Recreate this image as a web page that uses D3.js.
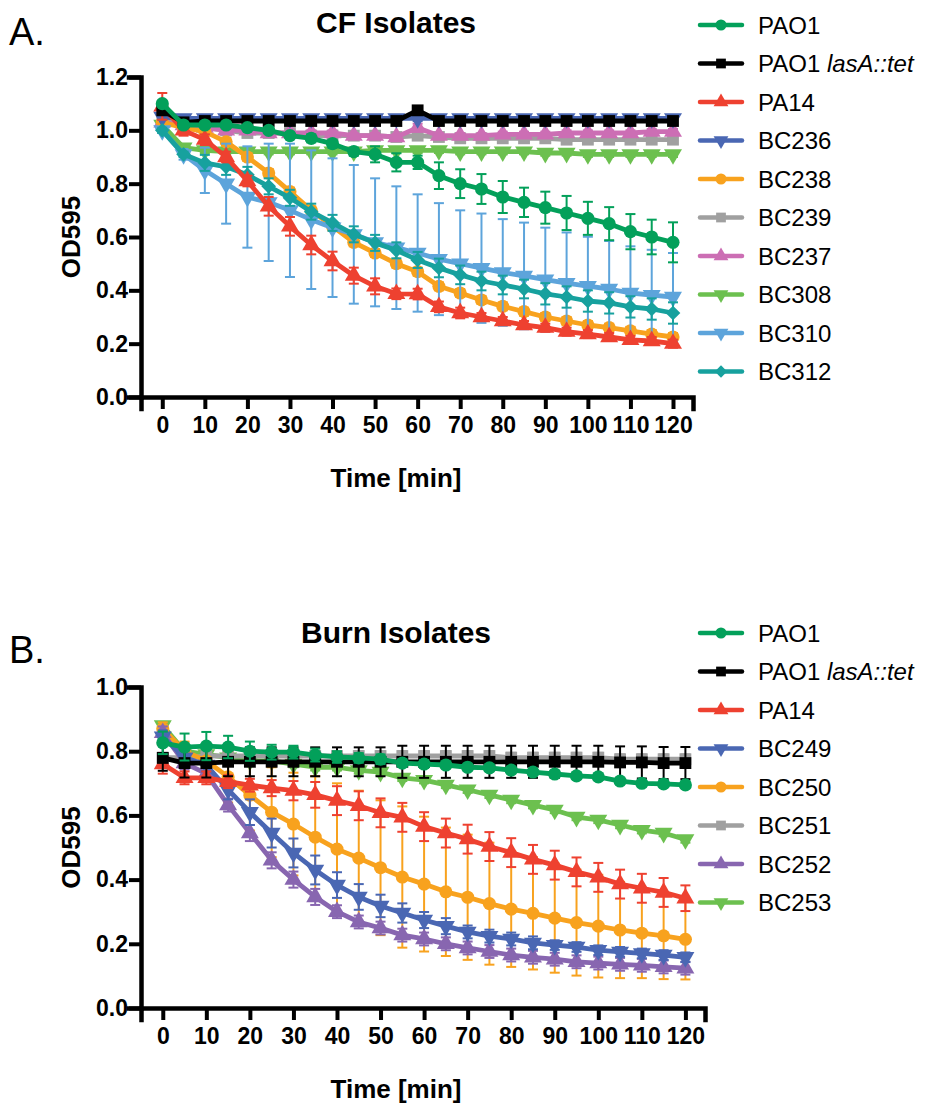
<!DOCTYPE html>
<html>
<head>
<meta charset="utf-8">
<script src="https://cdn.jsdelivr.net/npm/d3@7"></script>
<style>
body { margin: 0; background: #fff; }
svg { font-family: "Liberation Sans", Arial, Helvetica, sans-serif; }
</style>
</head>
<body>
<div id="chart-area"></div>
<script>

// ---- data ----
var times = [0, 5, 10, 15, 20, 25, 30, 35, 40, 45, 50, 55, 60, 65, 70, 75, 80, 85, 90, 95, 100, 105, 110, 115, 120];
var xTicks = [0, 10, 20, 30, 40, 50, 60, 70, 80, 90, 100, 110, 120];

// A. CF isolates
var cfNames = ["PAO1", "PAO1 lasA::tet", "PA14", "BC236", "BC238", "BC239", "BC237", "BC308", "BC310", "BC312"];
var cfYTicks = [0, 0.2, 0.4, 0.6, 0.8, 1.0, 1.2];

var cfPAO1    = [1.10, 1.02, 1.02, 1.02, 1.01, 1.00, 0.98, 0.97, 0.95, 0.92, 0.91, 0.88, 0.88, 0.83, 0.80, 0.78, 0.75, 0.73, 0.71, 0.69, 0.67, 0.65, 0.62, 0.60, 0.58];
var cfPAO1Err = [0.01, 0.01, 0.01, 0.01, 0.01, 0.01, 0.01, 0.015, 0.015, 0.015, 0.03, 0.034, 0.025, 0.05, 0.054, 0.056, 0.06, 0.055, 0.06, 0.064, 0.062, 0.062, 0.066, 0.065, 0.075];
var cfLasA    = [1.075, 1.03, 1.035, 1.035, 1.035, 1.035, 1.035, 1.035, 1.035, 1.035, 1.035, 1.035, 1.075, 1.035, 1.035, 1.035, 1.035, 1.035, 1.035, 1.035, 1.035, 1.035, 1.035, 1.035, 1.035];
var cfLasAErr = [0.01, 0.01, 0.01, 0.01, 0.01, 0.01, 0.01, 0.01, 0.01, 0.01, 0.01, 0.01, 0.01, 0.01, 0.01, 0.01, 0.01, 0.01, 0.01, 0.01, 0.01, 0.01, 0.01, 0.01, 0.01];
var cfPA14    = [1.09, 1.00, 0.965, 0.90, 0.81, 0.715, 0.64, 0.57, 0.51, 0.455, 0.415, 0.387, 0.386, 0.338, 0.315, 0.30, 0.285, 0.27, 0.26, 0.245, 0.236, 0.225, 0.214, 0.21, 0.20];
var cfPA14Err = [0.05, 0.02, 0.02, 0.02, 0.02, 0.035, 0.035, 0.035, 0.035, 0.03, 0.03, 0.02, 0.02, 0.02, 0.02, 0.015, 0.015, 0.015, 0.015, 0.015, 0.015, 0.015, 0.015, 0.015, 0.015];
var cfBC236    = [1.05, 1.045, 1.045, 1.045, 1.045, 1.045, 1.045, 1.045, 1.045, 1.045, 1.045, 1.045, 1.045, 1.045, 1.045, 1.045, 1.045, 1.045, 1.045, 1.045, 1.045, 1.045, 1.045, 1.045, 1.045];
var cfBC236Err = [0.01, 0.01, 0.01, 0.01, 0.01, 0.01, 0.01, 0.01, 0.01, 0.01, 0.01, 0.01, 0.01, 0.01, 0.01, 0.01, 0.01, 0.01, 0.01, 0.01, 0.01, 0.01, 0.01, 0.01, 0.01];
var cfBC238    = [1.03, 1.01, 0.995, 0.957, 0.90, 0.84, 0.77, 0.70, 0.64, 0.58, 0.54, 0.50, 0.47, 0.415, 0.39, 0.364, 0.34, 0.32, 0.30, 0.285, 0.27, 0.26, 0.248, 0.236, 0.225];
var cfBC238Err = [0.015, 0.015, 0.015, 0.015, 0.015, 0.015, 0.015, 0.015, 0.015, 0.015, 0.015, 0.015, 0.015, 0.015, 0.015, 0.015, 0.015, 0.015, 0.015, 0.015, 0.015, 0.015, 0.015, 0.015, 0.015];
var cfBC239    = [1.04, 1.02, 1.01, 1.00, 0.99, 0.99, 0.99, 0.98, 0.98, 0.98, 0.98, 0.975, 0.98, 0.975, 0.97, 0.97, 0.97, 0.97, 0.97, 0.965, 0.965, 0.965, 0.965, 0.965, 0.965];
var cfBC239Err = [0.01, 0.01, 0.01, 0.01, 0.01, 0.01, 0.01, 0.01, 0.01, 0.01, 0.01, 0.01, 0.01, 0.01, 0.01, 0.01, 0.01, 0.01, 0.01, 0.01, 0.01, 0.01, 0.01, 0.01, 0.01];
var cfBC237    = [1.03, 1.02, 1.01, 1.00, 1.00, 0.99, 0.99, 0.99, 0.99, 0.98, 0.98, 0.975, 1.01, 0.98, 0.98, 0.98, 0.985, 0.985, 0.985, 0.99, 0.99, 0.99, 0.99, 0.995, 0.995];
var cfBC237Err = [0.01, 0.01, 0.01, 0.01, 0.01, 0.01, 0.01, 0.01, 0.01, 0.01, 0.01, 0.01, 0.015, 0.01, 0.01, 0.01, 0.01, 0.01, 0.01, 0.01, 0.01, 0.01, 0.01, 0.01, 0.01];
var cfBC308    = [1.02, 0.935, 0.925, 0.92, 0.92, 0.92, 0.92, 0.92, 0.92, 0.92, 0.925, 0.925, 0.925, 0.925, 0.92, 0.92, 0.92, 0.92, 0.915, 0.915, 0.91, 0.91, 0.91, 0.91, 0.91];
var cfBC308Err = [0.01, 0.01, 0.01, 0.01, 0.01, 0.01, 0.01, 0.01, 0.01, 0.01, 0.01, 0.01, 0.01, 0.01, 0.01, 0.01, 0.01, 0.01, 0.01, 0.01, 0.01, 0.01, 0.01, 0.01, 0.01];
var cfBC310    = [1.00, 0.91, 0.85, 0.80, 0.75, 0.73, 0.70, 0.665, 0.635, 0.61, 0.58, 0.56, 0.54, 0.517, 0.50, 0.483, 0.467, 0.454, 0.44, 0.427, 0.416, 0.405, 0.39, 0.382, 0.375];
var cfBC310Err = [0.01, 0.02, 0.085, 0.15, 0.19, 0.22, 0.25, 0.26, 0.26, 0.26, 0.24, 0.23, 0.22, 0.21, 0.20, 0.205, 0.20, 0.20, 0.195, 0.19, 0.185, 0.18, 0.175, 0.17, 0.165];
var cfBC312    = [1.00, 0.91, 0.878, 0.863, 0.833, 0.79, 0.747, 0.695, 0.653, 0.61, 0.578, 0.55, 0.514, 0.484, 0.458, 0.435, 0.42, 0.405, 0.387, 0.375, 0.36, 0.353, 0.338, 0.33, 0.315];
var cfBC312Err = [0.01, 0.01, 0.03, 0.03, 0.03, 0.03, 0.03, 0.03, 0.03, 0.03, 0.03, 0.03, 0.03, 0.035, 0.035, 0.035, 0.035, 0.035, 0.04, 0.04, 0.04, 0.04, 0.04, 0.04, 0.04];

// B. Burn isolates
var burnNames = ["PAO1", "PAO1 lasA::tet", "PA14", "BC249", "BC250", "BC251", "BC252", "BC253"];
var burnYTicks = [0, 0.2, 0.4, 0.6, 0.8, 1.0];

var burnPAO1    = [0.826, 0.813, 0.816, 0.813, 0.80, 0.797, 0.797, 0.788, 0.782, 0.779, 0.775, 0.763, 0.76, 0.757, 0.75, 0.748, 0.741, 0.735, 0.729, 0.723, 0.72, 0.707, 0.70, 0.698, 0.695];
var burnPAO1Err = [0.035, 0.042, 0.044, 0.035, 0.03, 0.023, 0.02, 0.02, 0.018, 0.015, 0.015, 0.012, 0.012, 0.01, 0.01, 0.01, 0.01, 0.01, 0.01, 0.01, 0.01, 0.01, 0.01, 0.01, 0.01];
var burnLasA    = [0.779, 0.763, 0.763, 0.767, 0.767, 0.767, 0.767, 0.767, 0.767, 0.767, 0.767, 0.767, 0.767, 0.767, 0.767, 0.767, 0.767, 0.767, 0.767, 0.767, 0.767, 0.765, 0.765, 0.763, 0.763];
var burnLasAErr = [0.04, 0.045, 0.045, 0.045, 0.045, 0.045, 0.045, 0.045, 0.045, 0.045, 0.045, 0.05, 0.05, 0.05, 0.05, 0.05, 0.05, 0.05, 0.05, 0.05, 0.05, 0.05, 0.05, 0.05, 0.05];
var burnPA14    = [0.76, 0.717, 0.717, 0.705, 0.694, 0.685, 0.677, 0.664, 0.646, 0.63, 0.608, 0.594, 0.565, 0.545, 0.526, 0.503, 0.484, 0.463, 0.445, 0.424, 0.407, 0.386, 0.373, 0.36, 0.342];
var burnPA14Err = [0.03, 0.02, 0.02, 0.02, 0.02, 0.025, 0.03, 0.04, 0.045, 0.045, 0.045, 0.045, 0.045, 0.045, 0.045, 0.045, 0.045, 0.045, 0.045, 0.045, 0.045, 0.045, 0.045, 0.045, 0.04];
var burnBC249    = [0.845, 0.78, 0.757, 0.68, 0.61, 0.545, 0.483, 0.43, 0.383, 0.346, 0.318, 0.296, 0.274, 0.255, 0.237, 0.224, 0.215, 0.203, 0.196, 0.19, 0.18, 0.175, 0.17, 0.165, 0.158];
var burnBC249Err = [0.02, 0.02, 0.02, 0.03, 0.04, 0.045, 0.045, 0.045, 0.04, 0.04, 0.035, 0.03, 0.025, 0.025, 0.02, 0.02, 0.02, 0.02, 0.015, 0.015, 0.015, 0.015, 0.015, 0.015, 0.015];
var burnBC250    = [0.87, 0.80, 0.77, 0.72, 0.663, 0.61, 0.573, 0.532, 0.495, 0.467, 0.437, 0.408, 0.386, 0.362, 0.345, 0.325, 0.308, 0.295, 0.28, 0.266, 0.255, 0.243, 0.233, 0.225, 0.214];
var burnBC250Err = [0.02, 0.03, 0.05, 0.08, 0.11, 0.14, 0.16, 0.19, 0.205, 0.21, 0.21, 0.22, 0.21, 0.20, 0.195, 0.19, 0.18, 0.175, 0.17, 0.165, 0.16, 0.15, 0.14, 0.135, 0.125];
var burnBC251    = [0.78, 0.78, 0.785, 0.785, 0.785, 0.785, 0.785, 0.785, 0.785, 0.785, 0.785, 0.785, 0.785, 0.785, 0.785, 0.785, 0.78, 0.78, 0.78, 0.78, 0.78, 0.775, 0.775, 0.775, 0.775];
var burnBC251Err = [0.015, 0.015, 0.015, 0.015, 0.015, 0.015, 0.015, 0.015, 0.015, 0.015, 0.015, 0.015, 0.015, 0.015, 0.015, 0.015, 0.015, 0.015, 0.015, 0.015, 0.015, 0.015, 0.015, 0.015, 0.015];
var burnBC252    = [0.857, 0.763, 0.73, 0.632, 0.545, 0.46, 0.40, 0.346, 0.30, 0.268, 0.249, 0.227, 0.215, 0.20, 0.187, 0.176, 0.165, 0.158, 0.152, 0.144, 0.14, 0.136, 0.133, 0.128, 0.124];
var burnBC252Err = [0.02, 0.02, 0.02, 0.02, 0.025, 0.025, 0.025, 0.025, 0.02, 0.02, 0.02, 0.02, 0.02, 0.02, 0.02, 0.02, 0.02, 0.02, 0.02, 0.02, 0.02, 0.02, 0.02, 0.02, 0.02];
var burnBC253    = [0.88, 0.80, 0.79, 0.78, 0.77, 0.77, 0.76, 0.75, 0.75, 0.74, 0.735, 0.717, 0.71, 0.695, 0.68, 0.664, 0.648, 0.632, 0.617, 0.595, 0.586, 0.57, 0.554, 0.545, 0.525];
var burnBC253Err = [0.01, 0.01, 0.01, 0.01, 0.01, 0.01, 0.01, 0.01, 0.01, 0.01, 0.01, 0.01, 0.01, 0.01, 0.01, 0.01, 0.01, 0.01, 0.01, 0.01, 0.01, 0.01, 0.01, 0.01, 0.01];

// ---- styles ----
var cfColors = ["#03A05A", "#000000", "#EE4130", "#4A67B3", "#F8A21E", "#A0A0A0", "#CC6EB4", "#6CC04F", "#5DA4DB", "#17A19E"];
var cfShapes = ["circle", "square", "triangle", "triangleDown", "circle", "square", "triangle", "triangleDown", "triangleDown", "diamond"];
// drawing order, first drawn = bottom
var cfOrder = [7, 5, 6, 4, 3, 8, 9, 2, 1, 0];

var burnColors = ["#03A05A", "#000000", "#EE4130", "#4A67B3", "#F8A21E", "#A0A0A0", "#8866B0", "#6CC04F"];
var burnShapes = ["circle", "square", "triangle", "triangleDown", "circle", "square", "triangle", "triangleDown"];
var burnOrder = [7, 5, 4, 6, 3, 2, 1, 0];

var cfSeries = [
    [cfPAO1, cfPAO1Err], [cfLasA, cfLasAErr], [cfPA14, cfPA14Err], [cfBC236, cfBC236Err], [cfBC238, cfBC238Err],
    [cfBC239, cfBC239Err], [cfBC237, cfBC237Err], [cfBC308, cfBC308Err], [cfBC310, cfBC310Err], [cfBC312, cfBC312Err]
].map(function(s, i){
    return { name: cfNames[i], values: s[0], err: s[1], color: cfColors[i], shape: cfShapes[i] };
});

var burnSeries = [
    [burnPAO1, burnPAO1Err], [burnLasA, burnLasAErr], [burnPA14, burnPA14Err], [burnBC249, burnBC249Err],
    [burnBC250, burnBC250Err], [burnBC251, burnBC251Err], [burnBC252, burnBC252Err], [burnBC253, burnBC253Err]
].map(function(s, i){
    return { name: burnNames[i], values: s[0], err: s[1], color: burnColors[i], shape: burnShapes[i] };
});

var svg = d3.select("#chart-area")
    .append("svg")
        .attr("width", 933)
        .attr("height", 1103);

function symbolPath(shape, size) {
    if (shape == "circle") return d3.symbol(d3.symbolCircle, size)();
    if (shape == "square") return d3.symbol(d3.symbolSquare, size)();
    if (shape == "diamond") return d3.symbol(d3.symbolSquare, size * 0.8)();
    return d3.symbol(d3.symbolTriangle, size)();
}
function symbolRotate(shape) {
    if (shape == "triangleDown") return " rotate(180)";
    if (shape == "diamond") return " rotate(45)";
    return "";
}
var symbolSizes = { circle: 135, square: 140, triangle: 140, triangleDown: 140, diamond: 135 };

function drawPanel(p) {
    var g = svg.append("g");

    var x = d3.scaleLinear().domain([-5, p.xMax]).range([141, p.right]);
    var y = d3.scaleLinear().domain([0, p.yMax]).range([p.bottom, p.top]);

    // panel letter and title
    g.append("text")
        .attr("x", 9)
        .attr("y", p.letterY)
        .attr("font-size", "38px")
        .text(p.letter);
    g.append("text")
        .attr("x", 396)
        .attr("y", p.titleY)
        .attr("font-size", "30px")
        .attr("font-weight", "bold")
        .attr("text-anchor", "middle")
        .text(p.title);

    // axes
    var xAxisCall = d3.axisBottom(x)
        .tickValues(xTicks)
        .tickSizeOuter(0)
        .tickSize(12)
        .tickPadding(8);
    var xAxis = g.append("g")
        .attr("class", "x axis")
        .attr("transform", "translate(0," + p.bottom + ")")
        .call(xAxisCall);

    var yAxisCall = d3.axisLeft(y)
        .tickValues(p.yTicks)
        .tickFormat(d3.format(".1f"))
        .tickSizeOuter(0)
        .tickSize(12)
        .tickPadding(1);
    var yAxis = g.append("g")
        .attr("class", "y axis")
        .attr("transform", "translate(141,0)")
        .call(yAxisCall);

    [xAxis, yAxis].forEach(function(a){
        a.select(".domain").attr("stroke-width", 4.5).attr("stroke-linecap", "square");
        a.selectAll(".tick line").attr("stroke-width", 4);
        a.selectAll(".tick text")
            .attr("font-size", "23px")
            .attr("font-weight", "bold")
            .attr("font-family", "'Liberation Sans', Arial, sans-serif")
            .attr("fill", "#000");
    });

    g.append("text")
        .attr("x", 396)
        .attr("y", p.bottom + 90)
        .attr("font-size", "26px")
        .attr("font-weight", "bold")
        .attr("text-anchor", "middle")
        .text("Time [min]");
    g.append("text")
        .attr("transform", "rotate(-90)")
        .attr("x", -(p.top + p.bottom) / 2)
        .attr("y", 80)
        .attr("font-size", "26px")
        .attr("font-weight", "bold")
        .attr("text-anchor", "middle")
        .text("OD595");

    // series
    var line = d3.line()
        .x(function(d, i){ return x(times[i]); })
        .y(function(d){ return y(d); });

    p.order.forEach(function(idx){
        var s = p.series[idx];
        var sg = g.append("g");

        var bars = sg.selectAll(".err").data(s.values).enter().append("g");
        bars.append("line")
            .attr("x1", function(d, i){ return x(times[i]); })
            .attr("x2", function(d, i){ return x(times[i]); })
            .attr("y1", function(d, i){ return y(d + s.err[i]); })
            .attr("y2", function(d, i){ return y(d - s.err[i]); })
            .attr("stroke", s.color)
            .attr("stroke-width", 2);
        [1, -1].forEach(function(sign){
            bars.append("line")
                .attr("x1", function(d, i){ return x(times[i]) - 5; })
                .attr("x2", function(d, i){ return x(times[i]) + 5; })
                .attr("y1", function(d, i){ return y(d + sign * s.err[i]); })
                .attr("y2", function(d, i){ return y(d + sign * s.err[i]); })
                .attr("stroke", s.color)
                .attr("stroke-width", 2);
        });

        sg.append("path")
            .attr("d", line(s.values))
            .attr("fill", "none")
            .attr("stroke", s.color)
            .attr("stroke-width", 4.8)
            .attr("stroke-linejoin", "round");

        sg.selectAll(".pt").data(s.values).enter().append("path")
            .attr("d", symbolPath(s.shape, symbolSizes[s.shape]))
            .attr("transform", function(d, i){
                return "translate(" + x(times[i]) + "," + y(d) + ")" + symbolRotate(s.shape);
            })
            .attr("fill", s.color);
    });

    // legend
    var legend = g.append("g");
    p.series.forEach(function(s, i){
        var row = legend.append("g")
            .attr("transform", "translate(700," + (p.legendY + i * 38.5) + ")");
        row.append("line")
            .attr("x1", 0).attr("x2", 42)
            .attr("stroke", s.color)
            .attr("stroke-width", 4.5)
            .attr("stroke-linecap", "round");
        row.append("path")
            .attr("d", symbolPath(s.shape, 95))
            .attr("transform", "translate(21,0)" + symbolRotate(s.shape))
            .attr("fill", s.color);
        var t = row.append("text")
            .attr("x", 58)
            .attr("dy", "0.36em")
            .attr("font-size", "24px");
        if (s.name == "PAO1 lasA::tet") {
            t.append("tspan").text("PAO1 ");
            t.append("tspan").attr("font-style", "italic").text("lasA::tet");
        } else {
            t.text(s.name);
        }
    });
}

drawPanel({
    series: cfSeries, order: cfOrder, letter: "A.", title: "CF Isolates",
    top: 77, bottom: 397, right: 693, xMax: 124.7, yMax: 1.2, yTicks: cfYTicks,
    letterY: 45, titleY: 33, legendY: 25
});

drawPanel({
    series: burnSeries, order: burnOrder, letter: "B.", title: "Burn Isolates",
    top: 687, bottom: 1008, right: 705, xMax: 124.5, yMax: 1.0, yTicks: burnYTicks,
    letterY: 663, titleY: 643, legendY: 633
});

</script>
</body>
</html>
